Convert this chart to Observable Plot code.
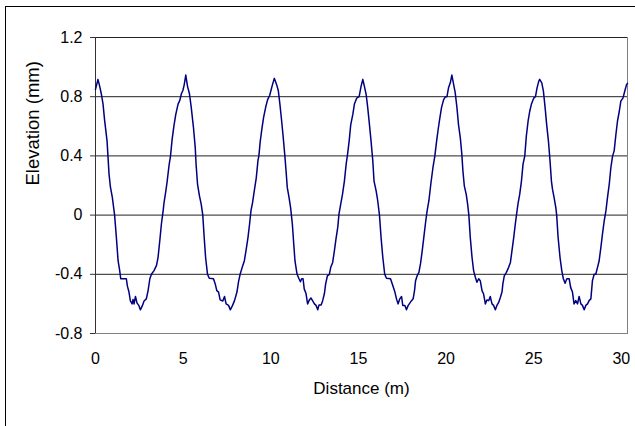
<!DOCTYPE html>
<html>
<head>
<meta charset="utf-8">
<script src="https://cdn.jsdelivr.net/npm/d3@7"></script>
<script src="https://cdn.jsdelivr.net/npm/@observablehq/plot@0.6"></script>
<style>
  html, body { margin: 0; padding: 0; background: #fff; }
  #wrap { position: relative; width: 635px; height: 426px; overflow: hidden; background: #fff; }
  #outer { position: absolute; left: 5px; top: 6px; width: 700px; height: 500px; border: 1px solid #000; box-sizing: border-box; }
  #chart { position: absolute; left: 0; top: 0; }
</style>
</head>
<body>
<div id="wrap">
  <div id="outer"></div>
  <div id="chart"></div>
</div>
<script>
const distance = [
  0, 0.14, 0.24, 0.33, 0.43, 0.52, 0.66, 0.71, 0.77, 0.85, 0.96, 1.09, 1.19, 1.29, 1.38, 1.44, 1.76, 1.82, 1.91, 1.99,
  2.09, 2.14, 2.20, 2.28, 2.37, 2.47, 2.56, 2.68, 2.77, 2.90, 3.0, 3.1, 3.19, 3.34, 3.48, 3.57, 3.67, 3.76, 3.86, 3.91,
  4.01, 4.09, 4.20, 4.28, 4.37, 4.47, 4.58, 4.71, 4.81, 4.9, 4.98, 5.06, 5.15,
  5.25, 5.36, 5.46, 5.59, 5.69, 5.74, 5.82, 5.93, 6.03, 6.12, 6.2, 6.28, 6.39, 6.49, 6.73, 6.83, 6.92, 7.02,
  7.11, 7.26, 7.36, 7.45, 7.59, 7.69, 7.82, 7.93, 8.07, 8.16, 8.25, 8.37, 8.49, 8.6, 8.7, 8.79, 8.87, 8.96,
  9.06, 9.17, 9.27, 9.32, 9.4, 9.5, 9.59, 9.71, 9.82, 9.94, 10.07, 10.2,
  10.33, 10.43, 10.52, 10.62, 10.71, 10.81, 10.87, 10.94, 11.04, 11.13, 11.23, 11.31, 11.38, 11.5, 11.61, 11.69, 11.76, 11.84, 11.91,
  12.01, 12.1, 12.2, 12.29, 12.39, 12.49, 12.58, 12.68, 12.75, 12.87, 12.96, 13.06, 13.13, 13.23, 13.34, 13.42, 13.53, 13.63, 13.72, 13.82, 13.89, 13.99,
  14.09, 14.2, 14.3, 14.39, 14.47, 14.56, 14.68, 14.77, 14.9, 15.04, 15.15, 15.25,
  15.34, 15.44, 15.53, 15.63, 15.72, 15.82, 15.89, 16.01, 16.1, 16.2, 16.29, 16.39, 16.5, 16.6, 16.83, 16.96,
  17.08, 17.17, 17.26, 17.36, 17.46, 17.53, 17.65, 17.74, 17.84, 17.93, 18.03, 18.12, 18.2, 18.26, 18.35, 18.45, 18.54, 18.64, 18.73, 18.83, 18.92,
  19.02, 19.13, 19.25, 19.36, 19.46, 19.55, 19.65, 19.74, 19.86, 19.97, 20.05, 20.14, 20.24, 20.33,
  20.43, 20.52, 20.62, 20.71, 20.81, 20.9, 20.96, 21.04, 21.15, 21.23, 21.3, 21.38, 21.48, 21.57, 21.67, 21.76, 21.86, 21.95,
  22.05, 22.14, 22.24, 22.33, 22.43, 22.52, 22.62, 22.71, 22.81, 22.9, 23.0, 23.1, 23.19, 23.24, 23.32, 23.44, 23.57, 23.67, 23.76, 23.86, 23.95,
  24.05, 24.1, 24.2, 24.3, 24.39, 24.49, 24.58, 24.68, 24.77, 24.87, 25.0, 25.1, 25.19, 25.29, 25.34,
  25.46, 25.55, 25.65, 25.74, 25.84, 25.93, 26.01, 26.07, 26.16, 26.26, 26.31, 26.39, 26.5, 26.6, 26.69, 26.79, 26.89,
  27.02, 27.11, 27.21, 27.3, 27.4, 27.5, 27.59, 27.69, 27.78, 27.88, 27.97, 28.07, 28.16, 28.26, 28.35, 28.45, 28.54, 28.64, 28.73, 28.83, 28.92,
  29.02, 29.12, 29.21, 29.31, 29.4, 29.5, 29.59, 29.69, 29.78, 29.88, 29.97, 30.09, 30.2, 30.3, 30.35
];
const elevation = [
  0.85, 0.917, 0.87, 0.82, 0.75, 0.64, 0.50, 0.40, 0.28, 0.19, 0.12, 0.0, -0.15, -0.31, -0.375, -0.43, -0.43, -0.48, -0.52, -0.58,
  -0.60, -0.57, -0.60, -0.55, -0.595, -0.61, -0.64, -0.61, -0.58, -0.566, -0.51, -0.43, -0.40, -0.375, -0.34, -0.285, -0.17, -0.06, 0.03, 0.085,
  0.16, 0.23, 0.34, 0.40, 0.51, 0.60, 0.68, 0.75, 0.775, 0.82, 0.84, 0.88, 0.946,
  0.87, 0.82, 0.73, 0.59, 0.456, 0.34, 0.21, 0.13, 0.074, 0.0, -0.15, -0.285, -0.40, -0.427, -0.43, -0.465, -0.51, -0.52,
  -0.573, -0.58, -0.55, -0.60, -0.61, -0.64, -0.61, -0.578, -0.52, -0.45, -0.40, -0.353, -0.31, -0.23, -0.15, -0.06, 0.03, 0.085,
  0.165, 0.25, 0.37, 0.40, 0.50, 0.59, 0.66, 0.73, 0.78, 0.81, 0.87, 0.924,
  0.883, 0.84, 0.75, 0.636, 0.524, 0.39, 0.30, 0.187, 0.12, 0.05, -0.06, -0.195, -0.31, -0.40, -0.43, -0.45, -0.43, -0.43, -0.50,
  -0.53, -0.60, -0.573, -0.56, -0.58, -0.60, -0.61, -0.64, -0.607, -0.607, -0.578, -0.53, -0.465, -0.41, -0.40, -0.353, -0.32, -0.24, -0.16, -0.083, 0.007, 0.074,
  0.14, 0.23, 0.344, 0.42, 0.50, 0.61, 0.68, 0.75, 0.79, 0.80, 0.87, 0.917,
  0.87, 0.816, 0.726, 0.61, 0.50, 0.366, 0.23, 0.164, 0.097, 0.0, -0.15, -0.285, -0.40, -0.427, -0.43, -0.476,
  -0.52, -0.566, -0.60, -0.566, -0.55, -0.61, -0.61, -0.64, -0.61, -0.595, -0.578, -0.566, -0.51, -0.443, -0.41, -0.387, -0.33, -0.24, -0.15, -0.05, 0.03,
  0.097, 0.21, 0.32, 0.40, 0.50, 0.58, 0.66, 0.726, 0.78, 0.80, 0.80, 0.86, 0.894, 0.946,
  0.883, 0.827, 0.726, 0.61, 0.524, 0.41, 0.30, 0.198, 0.14, 0.074, 0.0, -0.15, -0.285, -0.375, -0.42, -0.454, -0.43, -0.443,
  -0.51, -0.533, -0.60, -0.573, -0.578, -0.55, -0.60, -0.61, -0.64, -0.61, -0.59, -0.555, -0.52, -0.465, -0.41, -0.387, -0.353, -0.32, -0.24, -0.15, -0.06,
  0.03, 0.074, 0.14, 0.23, 0.344, 0.40, 0.535, 0.636, 0.70, 0.75, 0.79, 0.80, 0.86, 0.905, 0.917,
  0.894, 0.84, 0.726, 0.61, 0.50, 0.366, 0.23, 0.175, 0.12, 0.05, 0.0, -0.15, -0.285, -0.375, -0.43, -0.46, -0.43,
  -0.43, -0.49, -0.52, -0.60, -0.578, -0.60, -0.55, -0.60, -0.61, -0.64, -0.61, -0.60, -0.578, -0.566, -0.443, -0.40, -0.40, -0.353, -0.31, -0.22, -0.13,
  -0.04, 0.03, 0.12, 0.21, 0.32, 0.40, 0.434, 0.546, 0.636, 0.70, 0.77, 0.79, 0.84, 0.883, 0.89
];
const xTicks = [0, 5, 10, 15, 20, 25, 30];
const xTickLabels = ["0", "5", "10", "15", "20", "25", "30"];
const yTicks = [-0.8, -0.4, 0, 0.4, 0.8, 1.2];
const yTickLabels = ["-0.8", "-0.4", "0", "0.4", "0.8", "1.2"];
const xTitle = "Distance (m)";
const yTitle = "Elevation (mm)";

const data = distance.map((d, i) => ({d, v: elevation[i]}));

const chart = Plot.plot({
  width: 635,
  height: 426,
  marginLeft: 95,
  marginRight: 8,
  marginTop: 37,
  marginBottom: 93,
  style: {fontFamily: "'Liberation Sans', Arial, sans-serif", fontSize: "16px", color: "#000", background: "transparent"},
  x: {domain: [0, 30.35]},
  y: {domain: [-0.8, 1.2]},
  marks: [
    Plot.frame({stroke: "#808080"}),
    Plot.gridY(yTicks.filter(v => v > -0.8), {stroke: "#222", strokeOpacity: 1}),
    Plot.ruleX([0], {stroke: "#333"}),
    Plot.axisY({ticks: yTicks, tickFormat: d => yTickLabels[yTicks.indexOf(d)], tickSize: 5, tickPadding: 8, label: null, stroke: "#333"}),
    Plot.axisX({ticks: xTicks, tickFormat: d => xTickLabels[xTicks.indexOf(d)], tickSize: 0, tickPadding: 19, label: null}),
    Plot.line(data, {x: "d", y: "v", stroke: "#000080", strokeWidth: 1.5}),
    Plot.text([yTitle], {frameAnchor: "left", dx: -62, rotate: -90, fontSize: 18.5}),
    Plot.text([xTitle], {frameAnchor: "bottom", dy: 60, fontSize: 17})
  ]
});
document.getElementById("chart").appendChild(chart);
</script>
</body>
</html>
